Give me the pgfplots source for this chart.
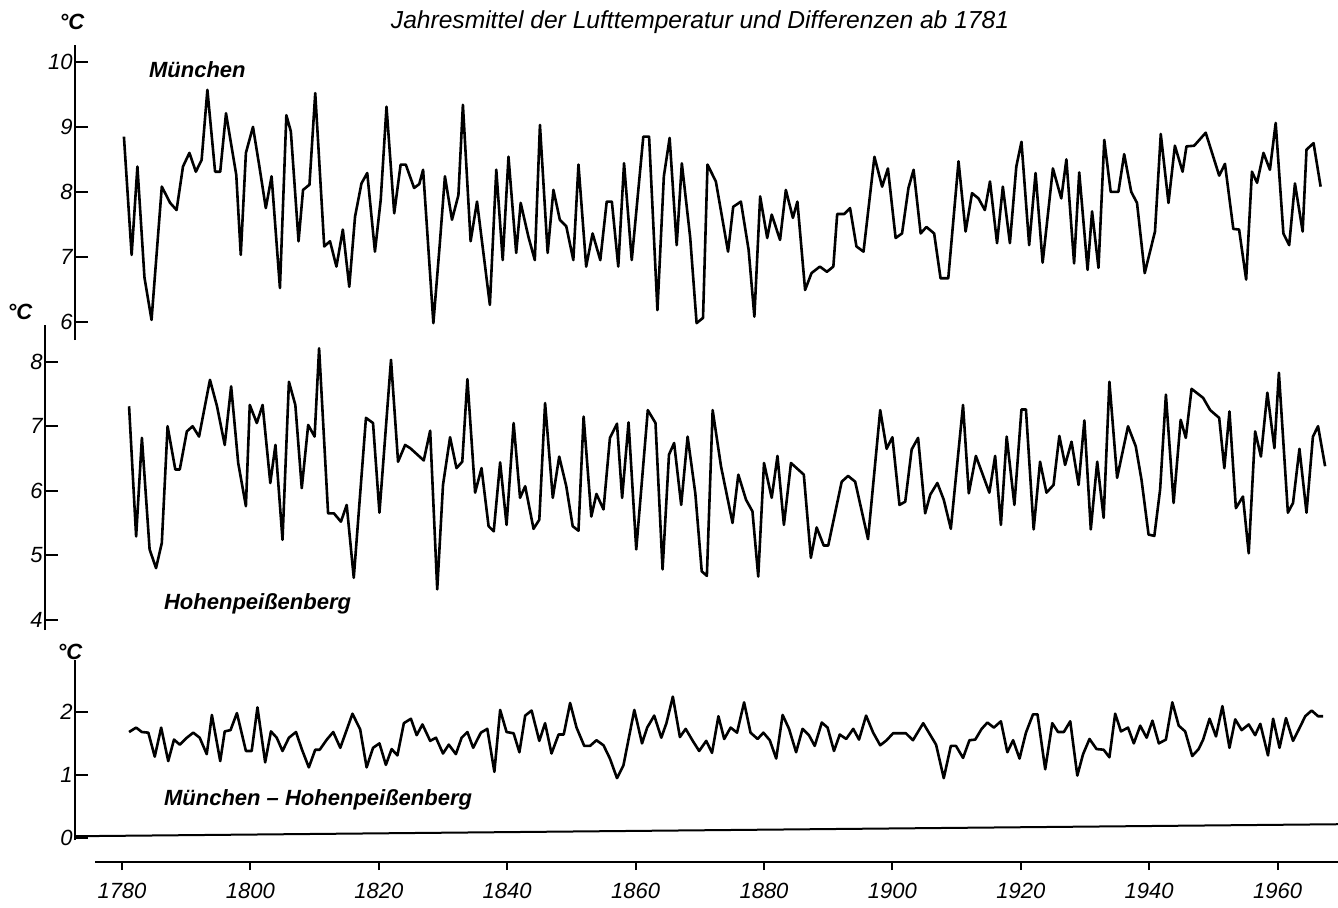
\documentclass[border=0pt]{standalone}
\usepackage{pgfplots}
\usepackage{pgfplotstable}
\pgfplotsset{compat=1.18}
\usepackage{fontspec}
\setmainfont{Liberation Sans}

% Jahresmittel Muenchen (Jahr, degC)
\pgfplotstableread{
year T
1780.3 8.85
1781.5 7.03
1782.4 8.39
1783.5 6.68
1784.6 6.03
1786.2 8.08
1787.5 7.83
1788.5 7.72
1789.5 8.39
1790.5 8.60
1791.5 8.31
1792.4 8.49
1793.3 9.57
1794.5 8.31
1795.3 8.31
1796.2 9.21
1797.8 8.26
1798.5 7.03
1799.3 8.60
1800.4 9.00
1801.4 8.39
1802.4 7.75
1803.3 8.24
1804.6 6.52
1805.6 9.18
1806.3 8.93
1807.5 7.24
1808.2 8.03
1809.2 8.11
1810.1 9.52
1811.5 7.16
1812.4 7.24
1813.4 6.85
1814.4 7.42
1815.4 6.54
1816.3 7.62
1817.3 8.13
1818.2 8.29
1819.4 7.08
1820.3 7.88
1821.2 9.31
1822.4 7.67
1823.4 8.42
1824.2 8.42
1825.5 8.06
1826.3 8.12
1826.9 8.34
1828.5 5.98
1829.5 7.20
1830.3 8.24
1831.4 7.57
1832.4 7.95
1833.1 9.34
1834.3 7.24
1835.3 7.85
1837.3 6.26
1838.3 8.34
1839.3 6.95
1840.2 8.54
1841.4 7.06
1842.1 7.83
1843.3 7.31
1844.3 6.95
1845.1 9.03
1846.3 7.06
1847.2 8.03
1848.2 7.57
1849.2 7.47
1850.3 6.95
1851.1 8.42
1852.3 6.85
1853.3 7.36
1854.5 6.95
1855.5 7.85
1856.3 7.85
1857.3 6.85
1858.2 8.44
1859.4 6.95
1861.2 8.85
1862.1 8.85
1863.4 6.18
1864.4 8.24
1865.3 8.83
1866.4 7.18
1867.2 8.44
1868.5 7.30
1869.5 5.98
1870.5 6.06
1871.2 8.42
1872.5 8.16
1874.4 7.08
1875.2 7.77
1876.4 7.85
1877.6 7.11
1878.5 6.08
1879.4 7.93
1880.5 7.29
1881.2 7.65
1882.5 7.26
1883.4 8.03
1884.5 7.60
1885.2 7.85
1886.4 6.49
1887.4 6.75
1888.7 6.85
1889.8 6.77
1890.8 6.85
1891.4 7.66
1892.5 7.66
1893.4 7.75
1894.4 7.16
1895.5 7.08
1897.2 8.54
1898.4 8.08
1899.3 8.36
1900.5 7.29
1901.5 7.36
1902.5 8.06
1903.3 8.34
1904.4 7.36
1905.3 7.46
1906.5 7.36
1907.5 6.67
1908.7 6.67
1910.3 8.47
1911.4 7.39
1912.4 7.98
1913.4 7.90
1914.4 7.72
1915.2 8.16
1916.3 7.21
1917.2 8.08
1918.3 7.21
1919.3 8.39
1920.1 8.77
1921.3 7.18
1922.3 8.29
1923.4 6.91
1925.0 8.36
1926.3 7.90
1927.1 8.50
1928.3 6.90
1929.1 8.30
1930.4 6.80
1931.1 7.70
1932.1 6.83
1933.0 8.80
1934.0 8.00
1935.2 8.00
1936.1 8.58
1937.2 8.00
1938.1 7.83
1939.3 6.75
1940.9 7.39
1941.8 8.89
1943.0 7.83
1944.0 8.71
1945.2 8.31
1945.8 8.70
1947.0 8.71
1948.8 8.91
1950.9 8.25
1951.8 8.43
1953.1 7.43
1954.0 7.42
1955.1 6.65
1956.0 8.31
1956.8 8.14
1957.8 8.60
1958.8 8.34
1959.7 9.06
1960.9 7.36
1961.8 7.18
1962.7 8.13
1963.9 7.39
1964.5 8.65
1965.6 8.75
1966.7 8.08
}\muenchen

% Hohenpeissenberg
\pgfplotstableread{
year T
1781.1 7.31
1782.2 5.29
1783.1 6.82
1784.3 5.09
1785.3 4.80
1786.2 5.19
1787.1 7.00
1788.3 6.33
1789.0 6.33
1790.1 6.92
1791.0 7.00
1792.0 6.84
1793.7 7.72
1794.8 7.31
1796.0 6.71
1797.0 7.62
1798.1 6.43
1799.3 5.76
1799.9 7.33
1801.0 7.05
1801.9 7.33
1803.1 6.12
1803.9 6.71
1805.0 5.24
1806.0 7.69
1807.0 7.33
1808.0 6.04
1809.0 7.02
1810.0 6.84
1810.7 8.21
1812.1 5.65
1813.0 5.65
1814.1 5.52
1815.0 5.78
1816.1 4.65
1818.0 7.13
1819.1 7.05
1820.1 5.66
1821.9 8.03
1823.0 6.45
1824.1 6.71
1824.9 6.66
1827.0 6.47
1828.0 6.93
1829.1 4.47
1830.0 6.09
1831.1 6.83
1832.1 6.35
1833.0 6.45
1833.8 7.73
1835.0 5.97
1836.0 6.35
1837.1 5.45
1837.9 5.37
1838.9 6.44
1839.9 5.47
1841.0 7.05
1842.0 5.89
1842.8 6.07
1844.1 5.41
1845.0 5.55
1845.9 7.36
1847.1 5.89
1848.1 6.53
1849.2 6.07
1850.2 5.45
1851.1 5.38
1851.9 7.15
1853.1 5.60
1853.9 5.95
1855.0 5.71
1856.0 6.82
1857.1 7.04
1857.9 5.89
1858.9 7.06
1860.1 5.09
1861.9 7.25
1863.1 7.05
1864.2 4.78
1865.2 6.56
1866.0 6.74
1867.1 5.78
1868.1 6.84
1869.3 5.96
1870.3 4.75
1871.1 4.68
1872.0 7.25
1873.3 6.38
1875.1 5.50
1876.0 6.25
1877.2 5.86
1878.2 5.68
1879.1 4.67
1880.0 6.43
1881.2 5.89
1882.1 6.54
1883.1 5.47
1884.2 6.43
1886.2 6.25
1887.3 4.96
1888.2 5.43
1889.3 5.15
1890.0 5.15
1892.1 6.14
1893.1 6.23
1894.2 6.14
1896.2 5.25
1898.1 7.25
1899.1 6.65
1900.0 6.83
1901.1 5.78
1902.0 5.83
1903.0 6.64
1904.0 6.82
1905.1 5.65
1905.9 5.94
1907.0 6.12
1908.0 5.86
1909.1 5.41
1911.0 7.33
1911.9 5.96
1913.0 6.54
1915.1 5.97
1916.0 6.54
1916.9 5.47
1917.8 6.84
1919.0 5.78
1920.1 7.26
1920.8 7.26
1922.0 5.40
1923.0 6.45
1924.0 5.97
1925.1 6.09
1926.0 6.85
1926.9 6.40
1927.9 6.76
1929.0 6.09
1929.9 7.09
1930.9 5.40
1931.9 6.45
1932.9 5.58
1933.8 7.69
1935.0 6.20
1936.7 7.00
1937.9 6.69
1938.8 6.17
1939.9 5.32
1940.8 5.30
1941.7 6.02
1942.6 7.49
1943.8 5.81
1944.9 7.10
1945.7 6.82
1946.6 7.58
1948.4 7.44
1949.5 7.25
1950.9 7.13
1951.7 6.35
1952.5 7.23
1953.5 5.73
1954.6 5.91
1955.5 5.03
1956.5 6.92
1957.4 6.53
1958.4 7.52
1959.5 6.66
1960.2 7.83
1961.6 5.66
1962.4 5.81
1963.4 6.65
1964.5 5.66
1965.5 6.84
1966.3 7.00
1967.4 6.38
}\hohen

% Differenz Muenchen - Hohenpeissenberg
\pgfplotstableread{
year D
1781.1 1.68
1782.2 1.75
1783.1 1.68
1784.1 1.67
1785.1 1.29
1786.1 1.75
1787.2 1.22
1788.1 1.56
1789.0 1.48
1790.1 1.59
1791.1 1.67
1792.1 1.59
1793.2 1.33
1794.0 1.95
1795.3 1.22
1796.0 1.69
1796.9 1.71
1797.9 1.98
1799.3 1.38
1800.2 1.38
1801.1 2.07
1802.3 1.20
1803.2 1.69
1804.1 1.59
1805.0 1.38
1806.0 1.59
1807.1 1.68
1808.0 1.41
1809.1 1.12
1810.1 1.40
1810.8 1.40
1811.9 1.56
1812.9 1.68
1814.0 1.43
1815.9 1.97
1817.1 1.72
1818.1 1.12
1819.1 1.43
1820.1 1.50
1821.1 1.16
1822.0 1.41
1822.9 1.31
1823.9 1.82
1825.0 1.89
1825.9 1.63
1826.8 1.80
1828.0 1.54
1828.9 1.59
1830.0 1.34
1830.9 1.48
1832.0 1.33
1832.9 1.59
1833.8 1.68
1834.7 1.43
1835.9 1.67
1836.9 1.73
1838.0 1.05
1838.9 2.03
1839.9 1.68
1841.0 1.66
1841.9 1.36
1842.8 1.94
1843.8 2.02
1845.0 1.54
1845.9 1.82
1846.9 1.34
1848.0 1.64
1848.8 1.64
1849.8 2.14
1850.8 1.75
1852.0 1.46
1852.9 1.46
1853.9 1.55
1855.0 1.47
1856.0 1.26
1857.1 0.95
1858.1 1.15
1859.8 2.03
1861.0 1.50
1861.8 1.75
1862.9 1.94
1864.0 1.59
1864.8 1.82
1865.8 2.24
1866.9 1.60
1867.8 1.73
1868.9 1.54
1869.9 1.38
1871.0 1.54
1871.9 1.35
1872.9 1.93
1873.8 1.57
1874.8 1.75
1875.8 1.67
1876.9 2.15
1877.9 1.67
1879.0 1.57
1879.9 1.67
1880.9 1.55
1881.9 1.26
1882.9 1.95
1883.9 1.73
1885.0 1.36
1886.0 1.73
1887.0 1.63
1887.9 1.46
1889.0 1.83
1889.9 1.75
1890.9 1.38
1891.8 1.64
1892.8 1.57
1893.9 1.73
1894.8 1.56
1895.9 1.94
1897.0 1.67
1898.1 1.47
1899.1 1.55
1900.1 1.66
1902.1 1.66
1903.2 1.55
1904.8 1.82
1906.8 1.48
1908.0 0.95
1909.1 1.46
1909.9 1.46
1911.0 1.27
1912.0 1.55
1912.9 1.56
1913.9 1.73
1914.8 1.83
1915.8 1.75
1916.9 1.85
1917.9 1.36
1918.8 1.55
1919.8 1.26
1920.8 1.67
1921.9 1.96
1922.6 1.96
1923.8 1.09
1924.9 1.82
1925.8 1.68
1926.7 1.68
1927.7 1.85
1928.8 0.99
1929.7 1.33
1930.7 1.57
1931.8 1.41
1932.9 1.40
1933.8 1.28
1934.7 1.97
1935.6 1.69
1936.7 1.75
1937.6 1.50
1938.6 1.78
1939.6 1.59
1940.5 1.86
1941.5 1.50
1942.6 1.56
1943.6 2.15
1944.6 1.78
1945.6 1.69
1946.7 1.30
1947.7 1.41
1948.4 1.56
1949.4 1.89
1950.4 1.61
1951.4 2.09
1952.5 1.43
1953.4 1.88
1954.4 1.71
1955.5 1.80
1956.5 1.63
1957.3 1.81
1958.5 1.31
1959.3 1.89
1960.3 1.43
1961.3 1.90
1962.4 1.54
1963.3 1.72
1964.3 1.93
1965.3 2.02
1966.3 1.93
1967.1 1.93
}\diff

\pgfplotsset{
  panel/.style={
    scale only axis,
    anchor=south west,
    axis x line=none,
    axis y line*=left,
    axis line style={line width=1pt,-},
    xtick=\empty,
    major tick length=6.5pt,
    ytick style={line width=1pt,black},
    yticklabel style={font=\itshape\fontsize{11}{11}\selectfont, inner xsep=1pt},
    /pgf/number format/assume math mode=true,
    clip=false,
    xmax=1969.408,
  },
  curve/.style={black, line width=1.3pt, no marks, line join=round},
}

\begin{document}
\begin{tikzpicture}
\path[use as bounding box] (0pt,0pt) rectangle (669pt,-453.5pt);

% Muenchen
\begin{axis}[panel, at={(37.5pt,-170pt)}, width=631.5pt, height=147.5pt,
  xmin=1772.679, ymin=5.72, ymax=10.26, ytick={6,7,8,9,10}, ytick align=inside]
  \addplot[curve] table[x=year, y=T] {\muenchen};
\end{axis}

% Hohenpeissenberg
\begin{axis}[panel, at={(22.5pt,-315pt)}, width=646.5pt, height=152.5pt,
  xmin=1768.006, ymin=3.84, ymax=8.57, ytick={4,5,6,7,8}, ytick align=inside]
  \addplot[curve] table[x=year, y=T] {\hohen};
\end{axis}

% Differenz
\begin{axis}[panel, at={(37.5pt,-420pt)}, width=631.5pt, height=90pt,
  xmin=1772.679, ymin=-0.03, ymax=2.82, ytick={0,1,2}, ytick align=inside]
  \addplot[curve] table[x=year, y=D] {\diff};
  \addplot[black, line width=1pt] coordinates {(1772.679,0.03) (1969.408,0.22)};
\end{axis}

% Zeitachse
\begin{axis}[scale only axis, anchor=south west, at={(47.5pt,-431pt)},
  width=621.5pt, height=1pt, xmin=1775.794, xmax=1969.408, ymin=0, ymax=1,
  axis x line*=bottom, axis y line=none,
  axis line style={line width=1pt,-},
  xtick={1780,1800,...,1960}, xtick align=outside, major tick length=4pt,
  xtick style={line width=1pt,black},
  xticklabel style={font=\itshape\fontsize{11}{11}\selectfont, yshift=-3pt},
  /pgf/number format/assume math mode=true,
  /pgf/number format/set thousands separator={}]
  \addplot[draw=none] coordinates {(1800,0.5)};
\end{axis}

\begin{scope}[x=0.5pt,y=-0.5pt]
\node[font=\itshape\fontsize{12.3}{12.3}\selectfont] at (700,22)
  {Jahresmittel der Lufttemperatur und Differenzen ab 1781};
\node[font=\itshape\bfseries\fontsize{11}{11}\selectfont] at (72,22) {°C};
\node[font=\itshape\bfseries\fontsize{11}{11}\selectfont] at (20,312) {°C};
\node[font=\itshape\bfseries\fontsize{11}{11}\selectfont] at (70,652) {°C};
\node[font=\itshape\bfseries\fontsize{11}{11}\selectfont, anchor=west] at (142,70) {München};
\node[font=\itshape\bfseries\fontsize{11}{11}\selectfont, anchor=west] at (157,604) {Hohenpeißenberg};
\node[font=\itshape\bfseries\fontsize{11}{11}\selectfont, anchor=west] at (157,800) {München -- Hohenpeißenberg};
\end{scope}
\end{tikzpicture}
\end{document}
